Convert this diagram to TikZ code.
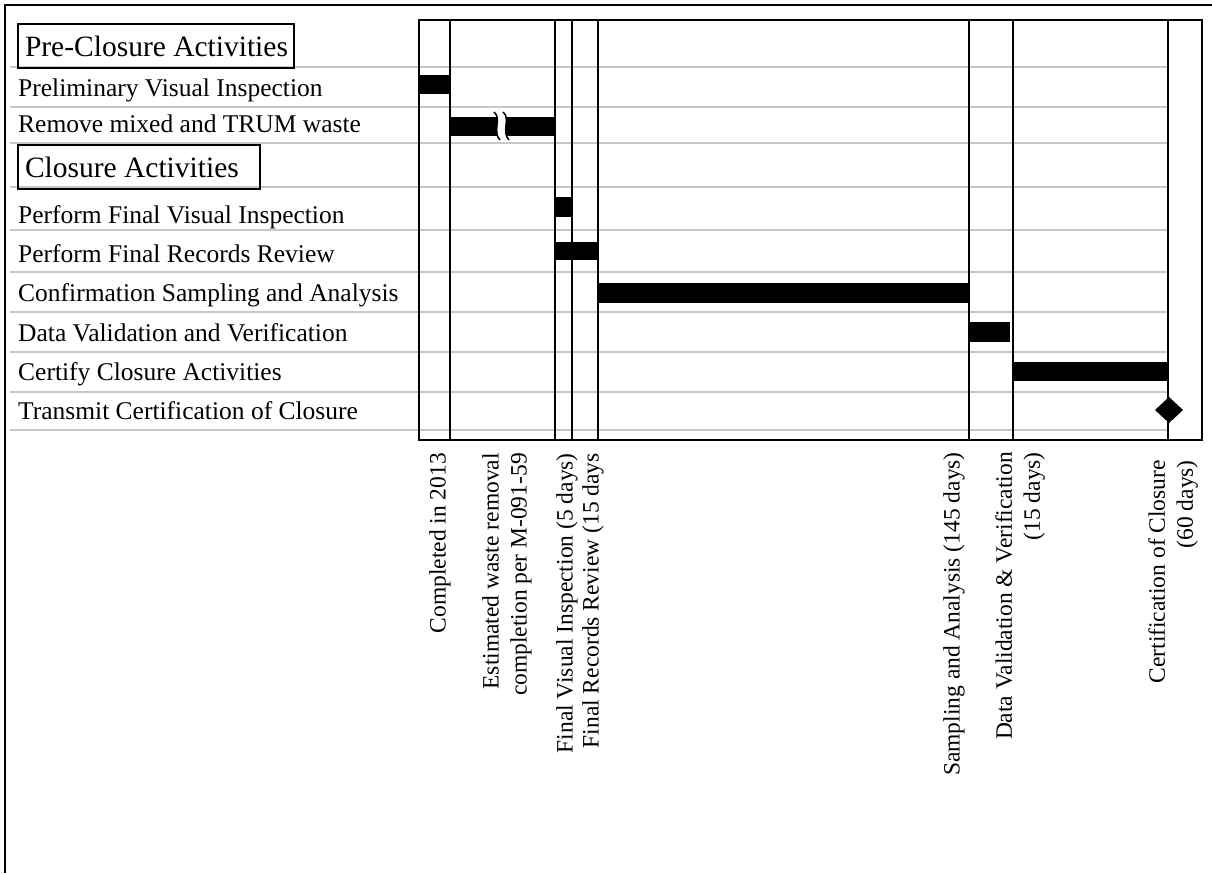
\documentclass[tikz,border=0pt]{standalone}
\usepackage{fontspec}
\setmainfont{Liberation Serif}
\usepackage{xcolor}
\usepackage{tikz}
\usetikzlibrary{positioning}
\definecolor{rulegray}{RGB}{200, 200, 200}

\begin{document}
\begin{tikzpicture}[
  x=1pt, y=-1pt,
  row/.style={font=\fontsize{25.5}{30}\selectfont, anchor=base west, inner sep=0pt},
  hdr/.style={draw, line width=2pt, font=\fontsize{29.5}{34}\selectfont, anchor=north west, inner xsep=7pt, inner ysep=0pt, minimum height=44pt},
  mlab/.style={font=\fontsize{23.5}{28}\selectfont, rotate=90, anchor=east, align=right, inner sep=0pt},
  grid/.style={draw=rulegray, line width=1.5pt},
  mile/.style={line width=2pt},
  bar/.style={fill=black}
]
  \useasboundingbox (0,0) rectangle (1212,873);

  % Outer frame
  \draw[line width=2.5pt] (5,873) -- (5,5) -- (1212,5);

  % Row rules
  \draw[grid] (10,67) -- (1168,67) (10,107) -- (1168,107) (10,143) -- (1168,143)
    (10,187) -- (1168,187) (10,230) -- (1168,230) (10,272) -- (1168,272)
    (10,312) -- (1168,312) (10,352) -- (1168,352) (10,392) -- (1168,392)
    (10,430) -- (1168,430);

  % Activities
  \node[hdr] (pre) at (17,23) {\makebox[262pt][l]{Pre-Closure Activities}};
  \node[row] (prelim) at (18,96) {Preliminary Visual Inspection};
  \node[row] (remove) at (18,132) {Remove mixed and TRUM waste};
  \node[hdr] (clos) at (17,144) {\makebox[228pt][l]{Closure Activities}};
  \node[row] (fvi) at (18,223) {Perform Final Visual Inspection};
  \node[row] (frr) at (18,262) {Perform Final Records Review};
  \node[row] (csa) at (18,301) {Confirmation Sampling and Analysis};
  \node[row] (dvv) at (18,341) {Data Validation and Verification};
  \node[row] (cert) at (18,380) {Certify Closure Activities};
  \node[row] (trans) at (18,419) {Transmit Certification of Closure};

  % Bars
  \fill[bar] (419,75) rectangle (450,94);
  \fill[bar] (450,117) rectangle (555,136);
  \fill[white] (494,112) .. controls (502,118) and (492,132) .. (500,140)
    -- (509,140) .. controls (501,132) and (511,118) .. (503,112) -- cycle;
  \draw[line width=1.5pt] (494,112) .. controls (502,118) and (492,132) .. (500,140);
  \draw[line width=1.5pt] (503,112) .. controls (511,118) and (501,132) .. (509,140);
  \fill[bar] (555,197) rectangle (572,217);
  \fill[bar] (555,242) rectangle (598,260);
  \fill[bar] (598,283) rectangle (969,303);
  \fill[bar] (969,322) rectangle (1010,342);
  \fill[bar] (1013,362) rectangle (1168,381);

  % Milestone lines
  \draw[mile] (419,20) rectangle (1202,440);
  \draw[mile] (450,20) -- (450,440);
  \draw[mile, line width=2.8pt] (555,20) -- (555,440);
  \draw[mile] (572,20) -- (572,440);
  \draw[mile] (598,20) -- (598,440);
  \draw[mile] (969,20) -- (969,440);
  \draw[mile] (1013,20) -- (1013,440);
  \draw[mile] (1168,20) -- (1168,440);
  \fill (1169,397) -- (1183,410) -- (1169,423) -- (1155,410) -- cycle;

  % Milestone labels
  \node[mlab] (m2013) at (440,453) {Completed in 2013};
  \node[mlab] (mwaste) at (507,453) {Estimated waste removal\\completion per M-091-59};
  \node[mlab] (mfvi) at (567,453) {Final Visual Inspection (5 days)};
  \node[mlab] (mfrr) at (593,453) {Final Records Review (15 days};
  \node[mlab] (msamp) at (954,452) {Sampling and Analysis (145 days)};
  \node[mlab] (mdvv) at (1020,452) {Data Validation \& Verification\\(15 days)};
  \node[mlab] (mcert) at (1173,460) {Certification of Closure\\(60 days)};

\end{tikzpicture}
\end{document}
